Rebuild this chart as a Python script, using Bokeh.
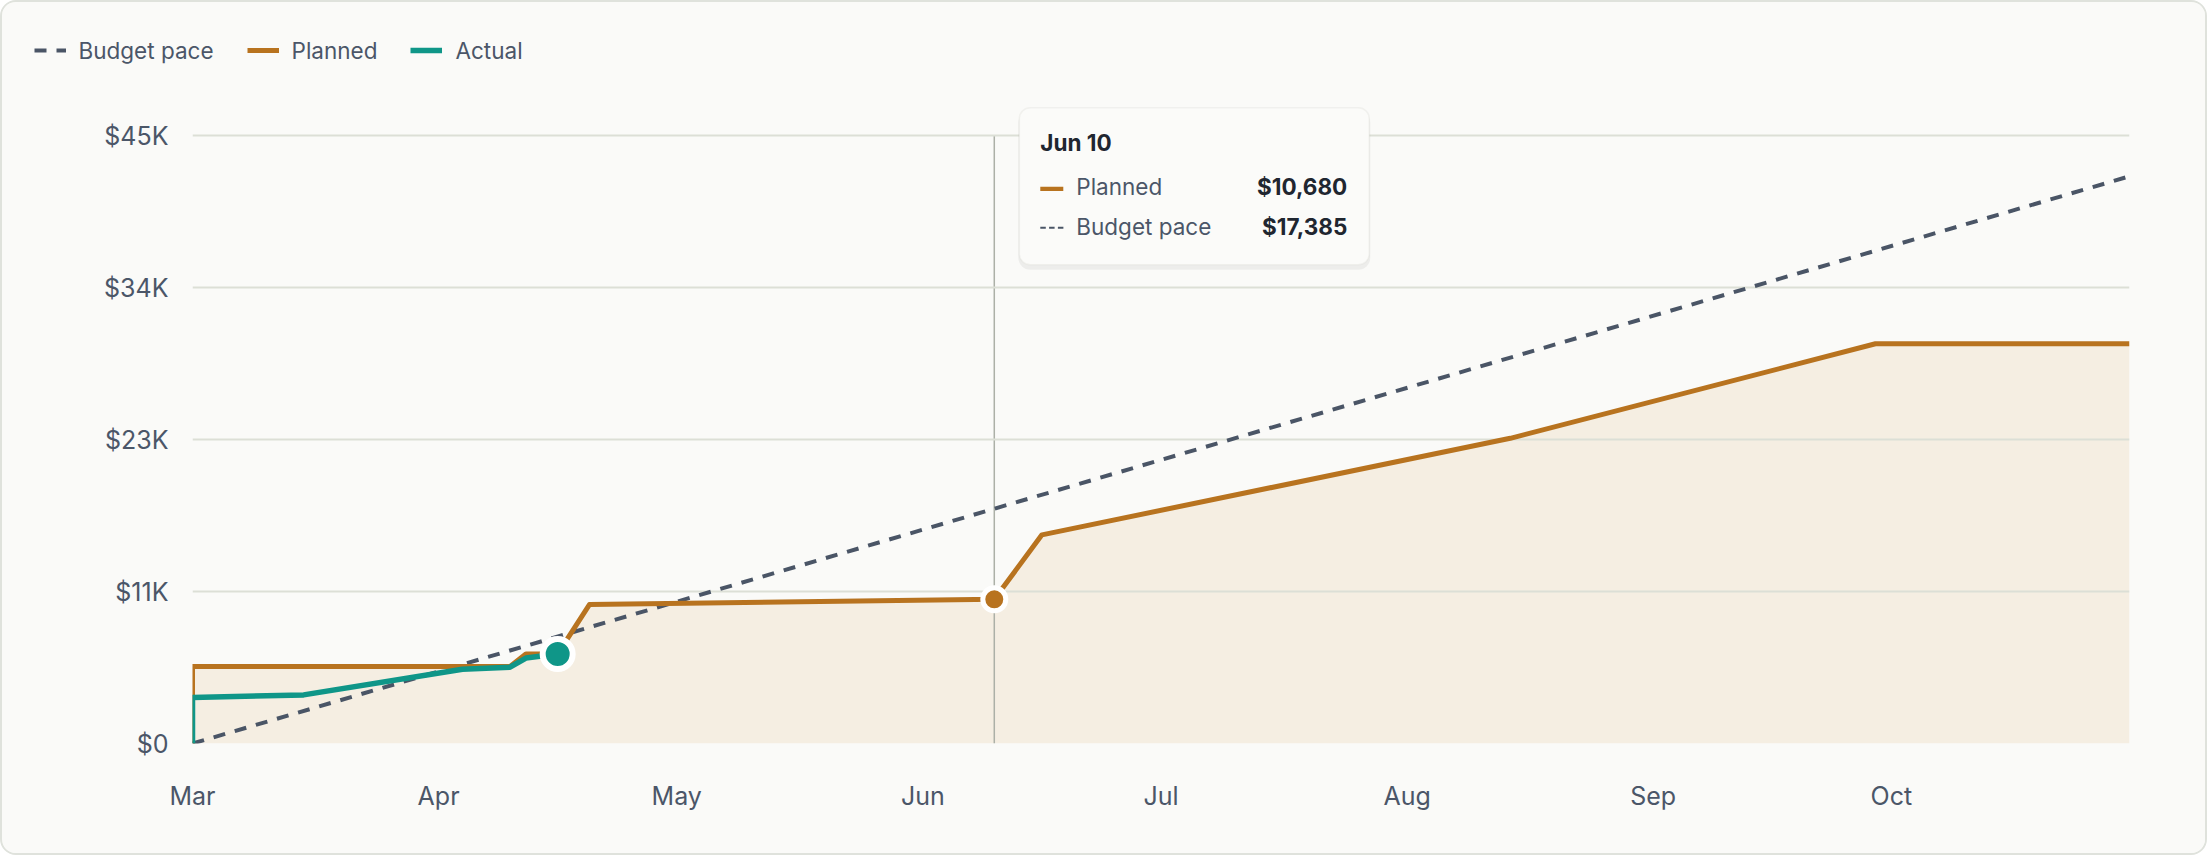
import numpy as np
import pandas as pd

from bokeh.plotting import figure
from bokeh.layouts import column
from bokeh.models import (BoxAnnotation, DatetimeTickFormatter, FixedTicker, Label,
                          Legend, LegendItem, Range1d)
from bokeh.embed import file_html
from bokeh.resources import INLINE

# -----------------------------
# DATA
# -----------------------------
month_ticks = ["2025-03-01", "2025-04-01", "2025-05-01", "2025-06-01",
               "2025-07-01", "2025-08-01", "2025-09-01", "2025-10-01"]
y_ticks = [0, 11250, 22500, 33750, 45000]
y_tick_labels = ["$0", "$11K", "$23K", "$34K", "$45K"]

budget_dates = ["2025-03-01", "2025-10-31"]
budget_values = [0, 42000]

planned_dates = ["2025-03-01", "2025-03-01", "2025-04-10", "2025-04-12", "2025-04-16",
                 "2025-04-20", "2025-06-10", "2025-06-16", "2025-08-14", "2025-09-29",
                 "2025-10-31"]
planned_values = [0, 5700, 5700, 6630, 6630, 10290, 10680, 15450, 22600, 29600, 29600]

actual_dates = ["2025-03-01", "2025-03-01", "2025-03-15", "2025-04-04", "2025-04-10",
                "2025-04-12", "2025-04-16"]
actual_values = [0, 3400, 3600, 5500, 5650, 6330, 6630]

hover_date = "2025-06-10"

# -----------------------------
# STYLE
# -----------------------------
FONT = "Inter"
TEXT = "#4b5668"
DARK = "#1f2630"
ORANGE = "#b8731f"
TEAL = "#0f9688"
SLATE = "#4a5566"
GRID = "#dcdfd6"
AREA = "#f5eee2"
BG = "#fafaf8"

W = 2203
LH = 92                 # legend strip height
H = 851 - LH            # main chart height
LEFT, RIGHT, TOP, BOTTOM = 190, 76, 5, 110
FW, FH = W - LEFT - RIGHT, H - TOP - BOTTOM
PX45 = 607.7            # height of the $45K gridline above the frame bottom
Y_MAX = y_ticks[-1] * FH / PX45

BUDGET_STYLE = dict(line_color=SLATE, line_width=4, line_dash="12 10")
PLANNED_STYLE = dict(line_color=ORANGE, line_width=5, line_join="round")
ACTUAL_STYLE = dict(line_color=TEAL, line_width=5.5, line_join="round")


def ms(d):
    return pd.Timestamp(d).value / 1e6


x0, x1 = ms(budget_dates[0]), ms(budget_dates[-1])
budget_x = pd.to_datetime(budget_dates)
planned_x = pd.to_datetime(planned_dates)
actual_x = pd.to_datetime(actual_dates)

# -----------------------------
# MAIN CHART
# -----------------------------
p = figure(width=W, height=H, x_axis_type="datetime",
           x_range=Range1d(x0, x1), y_range=Range1d(0, Y_MAX),
           output_backend="svg", toolbar_location=None,
           min_border_left=LEFT, min_border_right=RIGHT,
           min_border_top=TOP, min_border_bottom=BOTTOM)
p.frame_align = False
p.background_fill_color = BG
p.border_fill_color = BG
p.outline_line_color = None

# area under planned
p.varea(x=planned_x, y1=0, y2=planned_values, fill_color=AREA, level="image")

# crosshair at hovered date
hover_ts = pd.Timestamp(hover_date)
p.segment(x0=[hover_ts], y0=[0], x1=[hover_ts], y1=[y_ticks[-1]],
          line_color="#acb0a7", line_width=1.5, level="underlay")

p.line(budget_x, budget_values, **BUDGET_STYLE)
p.line(planned_x, planned_values, **PLANNED_STYLE)
p.line(actual_x, actual_values, **ACTUAL_STYLE)

# markers
planned_at_hover = float(np.interp(ms(hover_date), [ms(d) for d in planned_dates], planned_values))
budget_at_hover = float(np.interp(ms(hover_date), [ms(d) for d in budget_dates], budget_values))
p.scatter([hover_ts], [planned_at_hover], size=23, fill_color=ORANGE,
          line_color="white", line_width=5)
p.scatter([actual_x[-1]], [actual_values[-1]], size=30, fill_color=TEAL,
          line_color="white", line_width=6)

# axes
p.xgrid.grid_line_color = None
p.ygrid.grid_line_color = GRID
p.ygrid.grid_line_width = 2
p.yaxis.ticker = FixedTicker(ticks=y_ticks)
p.yaxis.major_label_overrides = {v: s for v, s in zip(y_ticks, y_tick_labels)}
p.xaxis.ticker = FixedTicker(ticks=[ms(d) for d in month_ticks])
p.xaxis.formatter = DatetimeTickFormatter(days="%b", months="%b", years="%b")
for ax in (p.xaxis, p.yaxis):
    ax.axis_line_color = None
    ax.major_tick_line_color = None
    ax.minor_tick_line_color = None
    ax.major_label_text_font = FONT
    ax.major_label_text_font_size = "25px"
    ax.major_label_text_color = TEXT
p.yaxis.major_label_standoff = 18
p.xaxis.major_label_standoff = 31

# -----------------------------
# TOOLTIP (static)
# -----------------------------
hx = (ms(hover_date) - x0) / (x1 - x0) * FW
bl, bt = hx + 25, PX45 + 28
bw, bh = 350, 157


def box(dx0, dy0, dx1, dy1, **kw):
    p.add_layout(BoxAnnotation(left=bl + dx0, right=bl + dx1, top=bt - dy0, bottom=bt - dy1,
                               left_units="screen", right_units="screen",
                               top_units="screen", bottom_units="screen", **kw))


box(-1, 3, bw + 1, bh + 5, fill_color="black", fill_alpha=0.05, line_color=None,
    border_radius=12)
box(0, 0, bw, bh, fill_color="#fbfbf9", fill_alpha=1, line_color="#d9dcd4",
    line_width=1.5, border_radius=11)
box(21, 79, 44, 83.3, fill_color=ORANGE, fill_alpha=1, line_color=None)
for i in range(3):
    box(21 + i * 8.8, 119, 26.5 + i * 8.8, 121, fill_color=SLATE, fill_alpha=1, line_color=None)


def label(text, dx, dy, align="left", bold=False, color=TEXT):
    p.add_layout(Label(x=bl + dx, y=bt - dy, x_units="screen", y_units="screen", text=text,
                       text_align=align, text_baseline="alphabetic", text_font=FONT,
                       text_font_size="22.5px", text_color=color,
                       text_font_style="bold" if bold else "normal"))


label(hover_ts.strftime("%b %-d"), 21, 35, bold=True, color=DARK)
label("Planned", 57, 79)
label(f"${planned_at_hover:,.0f}", 328, 79, align="right", bold=True, color=DARK)
label("Budget pace", 57, 118.3)
label(f"${budget_at_hover:,.0f}", 328, 118.3, align="right", bold=True, color=DARK)

# -----------------------------
# LEGEND STRIP (same series, drawn out of view; only the legend shows)
# -----------------------------
lg = figure(width=W, height=LH, x_axis_type="datetime", x_range=p.x_range,
            y_range=Range1d(-2 * Y_MAX, -Y_MAX),
            output_backend="svg", toolbar_location=None, min_border=0,
            x_axis_location=None, y_axis_location=None)
lg.frame_align = False
lg.background_fill_color = BG
lg.border_fill_color = BG
lg.outline_line_color = None
lg.grid.grid_line_color = None
r_budget = lg.line(budget_x, budget_values, **BUDGET_STYLE)
r_planned = lg.line(planned_x, planned_values, **PLANNED_STYLE)
r_actual = lg.line(actual_x, actual_values, **ACTUAL_STYLE)
legend = Legend(items=[LegendItem(label="Budget pace", renderers=[r_budget]),
                       LegendItem(label="Planned", renderers=[r_planned]),
                       LegendItem(label="Actual", renderers=[r_actual])],
                orientation="horizontal", location=(31.5, 30.5),
                glyph_width=32, glyph_height=20, label_height=26, label_standoff=13,
                spacing=33, padding=0, margin=0, border_line_color=None,
                background_fill_alpha=0, label_text_font=FONT,
                label_text_font_size="22.5px", label_text_color=TEXT)
lg.add_layout(legend, "center")

page = column(lg, p, spacing=0,
              styles={"border": "2px solid #dfe2dc", "border-radius": "16px",
                      "overflow": "hidden", "background-color": BG})

open("out.html", "w").write(file_html(page, INLINE))
